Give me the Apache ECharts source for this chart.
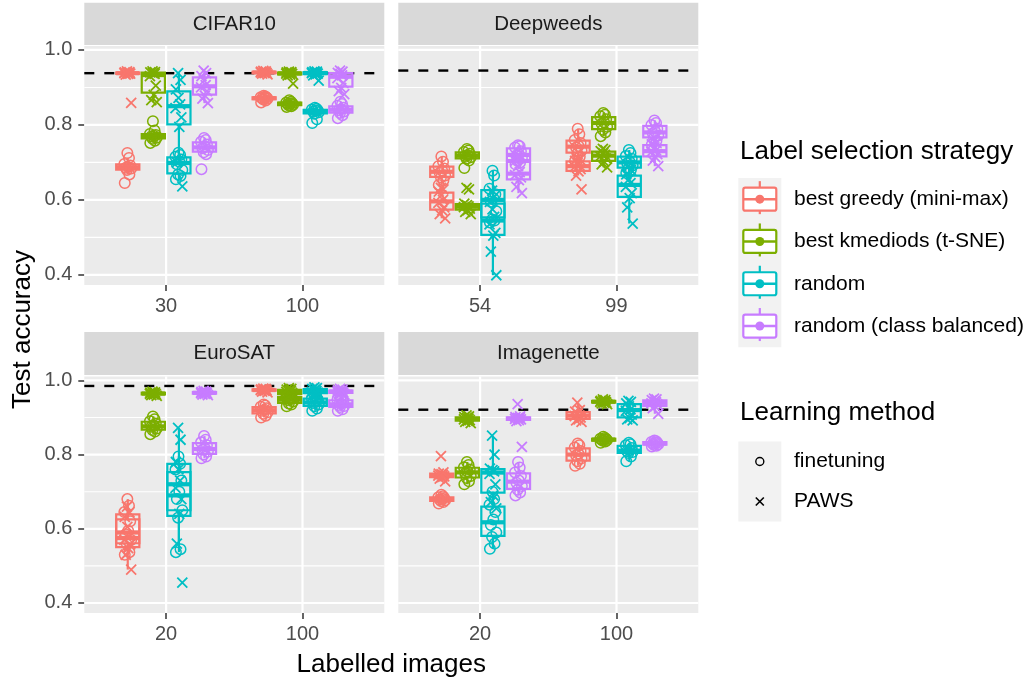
<!DOCTYPE html>
<html><head><meta charset="utf-8">
<script src="https://cdn.jsdelivr.net/npm/echarts@6/dist/echarts.min.js"></script>
<style>html,body{margin:0;padding:0;background:#fff}#c{width:1029px;height:681px}</style>
</head><body><div id="c"></div>
<script>
// ---------------- data ----------------
const STRATEGIES = ['best greedy (mini-max)', 'best kmediods (t-SNE)', 'random', 'random (class balanced)'];
const METHODS = ['finetuning', 'PAWS'];
const DATASETS = ['CIFAR10', 'Deepweeds', 'EuroSAT', 'Imagenette'];
const CIFAR10_X = ['30', '100'];
const DEEPWEEDS_X = ['54', '99'];
const EUROSAT_X = ['20', '100'];
const IMAGENETTE_X = ['20', '100'];
const REFERENCE_ACC = [0.938, 0.945, 0.985, 0.921];
const Y_TICKS = [0.4, 0.6, 0.8, 1.0];
const Y_MINOR = [0.5, 0.7, 0.9];

// each array: [best greedy, best kmediods, random, random (class balanced)]
const CIFAR10_30_FT = [
  [0.645, 0.668, 0.680, 0.684, 0.686, 0.688, 0.692, 0.696, 0.712, 0.725],
  [0.752, 0.758, 0.763, 0.766, 0.769, 0.771, 0.773, 0.776, 0.785, 0.810],
  [0.655, 0.664, 0.668, 0.680, 0.695, 0.702, 0.708, 0.715, 0.720, 0.726],
  [0.682, 0.722, 0.727, 0.733, 0.738, 0.742, 0.748, 0.755, 0.760, 0.765]];
const CIFAR10_30_PAWS = [
  [0.859, 0.934, 0.936, 0.937, 0.938, 0.938, 0.939, 0.940, 0.941, 0.943],
  [0.861, 0.866, 0.880, 0.905, 0.930, 0.936, 0.938, 0.940, 0.941, 0.943],
  [0.636, 0.700, 0.795, 0.820, 0.845, 0.855, 0.872, 0.895, 0.920, 0.938],
  [0.858, 0.870, 0.878, 0.890, 0.900, 0.906, 0.918, 0.930, 0.938, 0.945]];
const CIFAR10_100_FT = [
  [0.860, 0.865, 0.868, 0.870, 0.871, 0.872, 0.873, 0.874, 0.876, 0.878],
  [0.848, 0.850, 0.852, 0.854, 0.856, 0.857, 0.858, 0.860, 0.862, 0.866],
  [0.805, 0.815, 0.830, 0.834, 0.836, 0.838, 0.839, 0.841, 0.843, 0.846],
  [0.818, 0.826, 0.832, 0.836, 0.839, 0.842, 0.846, 0.851, 0.856, 0.862]];
const CIFAR10_100_PAWS = [
  [0.935, 0.937, 0.938, 0.939, 0.940, 0.940, 0.941, 0.942, 0.943, 0.944],
  [0.910, 0.932, 0.934, 0.936, 0.937, 0.938, 0.939, 0.940, 0.941, 0.942],
  [0.918, 0.932, 0.935, 0.937, 0.938, 0.939, 0.940, 0.941, 0.942, 0.943],
  [0.882, 0.890, 0.899, 0.912, 0.925, 0.932, 0.936, 0.939, 0.942, 0.945]];

const DEEPWEEDS_54_FT = [
  [0.640, 0.652, 0.660, 0.665, 0.672, 0.678, 0.684, 0.690, 0.702, 0.716],
  [0.685, 0.705, 0.710, 0.714, 0.717, 0.719, 0.723, 0.728, 0.732, 0.736],
  [0.540, 0.545, 0.548, 0.570, 0.595, 0.605, 0.615, 0.630, 0.665, 0.678],
  [0.695, 0.700, 0.704, 0.712, 0.718, 0.722, 0.730, 0.740, 0.743, 0.746]];
const DEEPWEEDS_54_PAWS = [
  [0.551, 0.562, 0.572, 0.580, 0.592, 0.600, 0.612, 0.622, 0.628, 0.632],
  [0.562, 0.568, 0.573, 0.577, 0.581, 0.583, 0.586, 0.590, 0.628, 0.632],
  [0.399, 0.462, 0.505, 0.512, 0.535, 0.555, 0.575, 0.595, 0.610, 0.625],
  [0.618, 0.635, 0.653, 0.660, 0.666, 0.674, 0.690, 0.705, 0.712, 0.718]];
const DEEPWEEDS_99_FT = [
  [0.705, 0.715, 0.724, 0.732, 0.740, 0.744, 0.752, 0.760, 0.775, 0.790],
  [0.770, 0.780, 0.787, 0.795, 0.803, 0.807, 0.815, 0.823, 0.827, 0.832],
  [0.672, 0.680, 0.684, 0.692, 0.698, 0.702, 0.710, 0.717, 0.725, 0.733],
  [0.748, 0.758, 0.765, 0.772, 0.778, 0.782, 0.790, 0.800, 0.805, 0.812]];
const DEEPWEEDS_99_PAWS = [
  [0.628, 0.665, 0.676, 0.682, 0.688, 0.692, 0.698, 0.704, 0.708, 0.712],
  [0.687, 0.695, 0.702, 0.710, 0.716, 0.720, 0.725, 0.730, 0.733, 0.736],
  [0.537, 0.580, 0.605, 0.618, 0.635, 0.645, 0.655, 0.668, 0.680, 0.690],
  [0.690, 0.705, 0.714, 0.722, 0.728, 0.732, 0.740, 0.748, 0.752, 0.756]];

const EUROSAT_20_FT = [
  [0.530, 0.537, 0.558, 0.570, 0.585, 0.595, 0.620, 0.645, 0.662, 0.680],
  [0.855, 0.862, 0.866, 0.870, 0.875, 0.877, 0.884, 0.890, 0.895, 0.903],
  [0.537, 0.545, 0.630, 0.650, 0.680, 0.700, 0.730, 0.760, 0.775, 0.795],
  [0.790, 0.795, 0.800, 0.808, 0.813, 0.817, 0.825, 0.833, 0.840, 0.850]];
const EUROSAT_20_PAWS = [
  [0.490, 0.530, 0.548, 0.558, 0.570, 0.580, 0.605, 0.632, 0.645, 0.660],
  [0.958, 0.960, 0.962, 0.963, 0.964, 0.965, 0.966, 0.967, 0.968, 0.970],
  [0.455, 0.560, 0.640, 0.680, 0.710, 0.730, 0.760, 0.780, 0.840, 0.872],
  [0.960, 0.962, 0.964, 0.965, 0.966, 0.967, 0.968, 0.969, 0.970, 0.972]];
const EUROSAT_100_FT = [
  [0.900, 0.905, 0.910, 0.914, 0.918, 0.921, 0.925, 0.929, 0.932, 0.935],
  [0.930, 0.935, 0.938, 0.943, 0.947, 0.949, 0.952, 0.956, 0.959, 0.962],
  [0.918, 0.924, 0.930, 0.935, 0.939, 0.942, 0.947, 0.952, 0.955, 0.958],
  [0.918, 0.922, 0.928, 0.931, 0.934, 0.937, 0.942, 0.948, 0.951, 0.954]];
const EUROSAT_100_PAWS = [
  [0.968, 0.970, 0.972, 0.973, 0.974, 0.974, 0.975, 0.976, 0.977, 0.978],
  [0.955, 0.958, 0.962, 0.966, 0.969, 0.971, 0.973, 0.975, 0.977, 0.979],
  [0.958, 0.962, 0.965, 0.967, 0.969, 0.971, 0.974, 0.977, 0.979, 0.981],
  [0.962, 0.964, 0.966, 0.968, 0.969, 0.971, 0.972, 0.973, 0.975, 0.977]];

const IMAGENETTE_20_FT = [
  [0.668, 0.672, 0.675, 0.677, 0.679, 0.681, 0.683, 0.685, 0.688, 0.692],
  [0.720, 0.728, 0.737, 0.742, 0.750, 0.754, 0.760, 0.766, 0.772, 0.780],
  [0.546, 0.560, 0.578, 0.590, 0.610, 0.625, 0.645, 0.665, 0.680, 0.700],
  [0.690, 0.698, 0.705, 0.715, 0.724, 0.730, 0.742, 0.752, 0.765, 0.780]];
const IMAGENETTE_20_PAWS = [
  [0.728, 0.735, 0.739, 0.741, 0.743, 0.745, 0.747, 0.749, 0.752, 0.796],
  [0.885, 0.888, 0.891, 0.893, 0.895, 0.897, 0.899, 0.901, 0.903, 0.906],
  [0.655, 0.672, 0.690, 0.720, 0.748, 0.755, 0.758, 0.762, 0.800, 0.851],
  [0.821, 0.890, 0.893, 0.895, 0.896, 0.898, 0.899, 0.901, 0.903, 0.936]];
const IMAGENETTE_100_FT = [
  [0.770, 0.775, 0.782, 0.790, 0.798, 0.802, 0.810, 0.819, 0.825, 0.830],
  [0.832, 0.835, 0.837, 0.839, 0.840, 0.841, 0.842, 0.843, 0.845, 0.848],
  [0.782, 0.795, 0.804, 0.807, 0.809, 0.812, 0.818, 0.825, 0.828, 0.832],
  [0.822, 0.824, 0.826, 0.828, 0.829, 0.831, 0.832, 0.834, 0.836, 0.838]];
const IMAGENETTE_100_PAWS = [
  [0.888, 0.892, 0.895, 0.900, 0.904, 0.906, 0.910, 0.916, 0.920, 0.940],
  [0.936, 0.938, 0.940, 0.941, 0.942, 0.943, 0.944, 0.945, 0.947, 0.949],
  [0.892, 0.895, 0.898, 0.908, 0.918, 0.922, 0.930, 0.938, 0.942, 0.945],
  [0.910, 0.925, 0.930, 0.935, 0.938, 0.941, 0.943, 0.947, 0.949, 0.951]];

// ---------------- style ----------------
const COLORS = ['#F8766D', '#7CAE00', '#00BFC4', '#C77CFF'];
const DODGE = [-0.28125, -0.09375, 0.09375, 0.28125];
const JITTER = [-0.022, 0.012, -0.006, 0.025, -0.015, 0.003, 0.018, -0.025, 0.009, -0.003];
const BOX_HALF = 0.085;
const FONT = '"Liberation Sans", Arial, Helvetica, sans-serif';
const X_CATS = [CIFAR10_X, DEEPWEEDS_X, EUROSAT_X, IMAGENETTE_X];
const PANEL_DATA = [
  [[CIFAR10_30_FT, CIFAR10_30_PAWS], [CIFAR10_100_FT, CIFAR10_100_PAWS]],
  [[DEEPWEEDS_54_FT, DEEPWEEDS_54_PAWS], [DEEPWEEDS_99_FT, DEEPWEEDS_99_PAWS]],
  [[EUROSAT_20_FT, EUROSAT_20_PAWS], [EUROSAT_100_FT, EUROSAT_100_PAWS]],
  [[IMAGENETTE_20_FT, IMAGENETTE_20_PAWS], [IMAGENETTE_100_FT, IMAGENETTE_100_PAWS]]];
const GRIDS = [
  {left: 84.3, top: 46, width: 300, height: 239},
  {left: 398.3, top: 46, width: 300, height: 239},
  {left: 84.3, top: 376.5, width: 300, height: 236.5},
  {left: 398.3, top: 376.5, width: 300, height: 236.5}];
const Y_MIN = 0.373, Y_MAX = 1.0105;

function quantile(sorted, p) {
  const h = (sorted.length - 1) * p, lo = Math.floor(h), hi = Math.ceil(h);
  return sorted[lo] + (h - lo) * (sorted[hi] - sorted[lo]);
}
function boxStats(vals) {
  const s = vals.slice().sort((a, b) => a - b);
  const q1 = quantile(s, 0.25), md = quantile(s, 0.5), q3 = quantile(s, 0.75);
  const iqr = q3 - q1;
  const inside = s.filter(v => v >= q1 - 1.5 * iqr && v <= q3 + 1.5 * iqr);
  return [inside[0], q1, md, q3, inside[inside.length - 1]];
}

const series = [];
for (let g = 0; g < 4; g++) {
  const gl = [];
  Y_TICKS.forEach(v => gl.push([0, v, 1]));
  Y_MINOR.forEach(v => gl.push([0, v, 0]));
  [1, 2].forEach(v => gl.push([1, v, 1]));
  series.push({
    type: 'custom', xAxisIndex: g, yAxisIndex: g, z: 1, silent: true, data: gl,
    renderItem: (params, api) => {
      const cs = params.coordSys;
      const kind = api.value(0), v = api.value(1), major = api.value(2);
      if (kind === 0) {
        const y = api.coord([1, v])[1];
        return {type: 'line', shape: {x1: cs.x, y1: y, x2: cs.x + cs.width, y2: y},
          style: {stroke: '#FFFFFF', lineWidth: major ? 2.2 : 1.1}};
      }
      const x = api.coord([v, 0.7])[0];
      return {type: 'line', shape: {x1: x, y1: cs.y, x2: x, y2: cs.y + cs.height},
        style: {stroke: '#FFFFFF', lineWidth: 2.2}};
    }
  });
  series.push({
    type: 'custom', xAxisIndex: g, yAxisIndex: g, z: 2, silent: true, data: [[1, REFERENCE_ACC[g]]],
    renderItem: (params, api) => {
      const cs = params.coordSys;
      const y = api.coord([1, api.value(1)])[1];
      return {type: 'line', shape: {x1: cs.x, y1: y, x2: cs.x + cs.width, y2: y},
        style: {stroke: '#000', lineWidth: 2.4, lineDash: [10, 10]}};
    }
  });
  for (let s = 0; s < 4; s++) {
    const col = COLORS[s];
    const data = [];
    for (let c = 0; c < 2; c++) for (let m = 0; m < 2; m++) {
      data.push([c + 1 + DODGE[s]].concat(boxStats(PANEL_DATA[g][c][m][s])));
    }
    series.push({
      type: 'custom', name: STRATEGIES[s], xAxisIndex: g, yAxisIndex: g, z: 3, silent: true,
      encode: {x: 0, y: [1, 2, 3, 4, 5]}, data: data,
      renderItem: (params, api) => {
        const x = api.value(0);
        const lo = api.value(1), q1 = api.value(2), md = api.value(3), q3 = api.value(4), hi = api.value(5);
        const tl = api.coord([x - BOX_HALF, q3]), br = api.coord([x + BOX_HALF, q1]);
        const ml = api.coord([x - BOX_HALF, md]), mr = api.coord([x + BOX_HALF, md]);
        const pHi = api.coord([x, hi]), pQ3 = api.coord([x, q3]), pQ1 = api.coord([x, q1]), pLo = api.coord([x, lo]);
        const st = {stroke: col, lineWidth: 2.2, fill: 'none'};
        return {type: 'group', children: [
          {type: 'line', shape: {x1: pHi[0], y1: pHi[1], x2: pQ3[0], y2: pQ3[1]}, style: st},
          {type: 'line', shape: {x1: pQ1[0], y1: pQ1[1], x2: pLo[0], y2: pLo[1]}, style: st},
          {type: 'rect', shape: {x: tl[0], y: tl[1], width: br[0] - tl[0], height: br[1] - tl[1]}, style: st},
          {type: 'line', shape: {x1: ml[0], y1: ml[1], x2: mr[0], y2: mr[1]}, style: {stroke: col, lineWidth: 4.2}}
        ]};
      }
    });
  }
  for (let s = 0; s < 4; s++) for (let m = 0; m < 2; m++) {
    const pts = [];
    for (let c = 0; c < 2; c++) {
      PANEL_DATA[g][c][m][s].forEach((v, i) => pts.push([c + 1 + DODGE[s] + JITTER[(i + 3 * m) % JITTER.length], v]));
    }
    series.push({
      type: 'scatter', name: STRATEGIES[s] + ' / ' + METHODS[m], xAxisIndex: g, yAxisIndex: g, z: 4, silent: true,
      data: pts,
      symbol: m === 0 ? 'circle' : 'path://M0,0L10,10M10,0L0,10',
      symbolSize: m === 0 ? 10.5 : 10,
      itemStyle: {color: 'rgba(0,0,0,0)', borderColor: COLORS[s], borderWidth: m === 0 ? 1.5 : 1.8, opacity: 1}
    });
  }
}

const grid = GRIDS.map(r => Object.assign({show: true, backgroundColor: '#EBEBEB', borderWidth: 0, containLabel: false, outerBoundsMode: 'none'}, r));
const xAxis = GRIDS.map((r, g) => ({
  type: 'value', gridIndex: g, min: 0.4, max: 2.6,
  axisLine: {show: false}, splitLine: {show: false}, minorSplitLine: {show: false},
  axisTick: {show: true, customValues: [1, 2], length: 6, lineStyle: {color: '#333333', width: 1.5}},
  axisLabel: {show: true, customValues: [1, 2], formatter: v => X_CATS[g][Math.round(v) - 1],
    color: '#4D4D4D', fontSize: 20, fontFamily: FONT, margin: 11}
}));
const yAxis = GRIDS.map((r, g) => ({
  type: 'value', gridIndex: g, min: Y_MIN, max: Y_MAX,
  axisLine: {show: false}, splitLine: {show: false},
  axisTick: {show: g % 2 === 0, customValues: Y_TICKS, length: 6, lineStyle: {color: '#333333', width: 1.5}},
  axisLabel: {show: g % 2 === 0, customValues: Y_TICKS, formatter: v => v.toFixed(1),
    color: '#4D4D4D', fontSize: 20, fontFamily: FONT, margin: 12}
}));

const graphic = [];
GRIDS.forEach((r, g) => {
  const top = g < 2 ? 2.7 : 332;
  const bot = g < 2 ? 45 : 375;
  graphic.push({type: 'rect', silent: true, shape: {x: r.left, y: top, width: r.width, height: bot - top}, style: {fill: '#D9D9D9'}});
  graphic.push({type: 'text', silent: true, x: r.left + r.width / 2, y: (top + bot) / 2,
    style: {text: DATASETS[g], fill: '#1A1A1A', font: '20.5px ' + FONT, textAlign: 'center', textVerticalAlign: 'middle'}});
});
graphic.push({type: 'text', silent: true, x: 391.3, y: 665,
  style: {text: 'Labelled images', fill: '#000', font: '26px ' + FONT, textAlign: 'center', textVerticalAlign: 'middle'}});
graphic.push({type: 'text', silent: true, x: 23, y: 329.5, rotation: Math.PI / 2,
  style: {text: 'Test accuracy', fill: '#000', font: '26px ' + FONT, textAlign: 'center', textVerticalAlign: 'middle'}});
graphic.push({type: 'text', silent: true, x: 740, y: 152,
  style: {text: 'Label selection strategy', fill: '#000', font: '26px ' + FONT, textAlign: 'left', textVerticalAlign: 'middle'}});
const K1_TOP = 178, K_STEP = 42.3, KX = 738.3, KW = 43;
graphic.push({type: 'rect', silent: true, shape: {x: KX, y: K1_TOP, width: KW, height: K_STEP * 4}, style: {fill: '#F2F2F2'}});
STRATEGIES.forEach((name, s) => {
  const cy = K1_TOP + K_STEP * (s + 0.5), cx = KX + KW / 2, col = COLORS[s];
  graphic.push({type: 'line', silent: true, shape: {x1: cx, y1: cy - 18, x2: cx, y2: cy + 15}, style: {stroke: col, lineWidth: 2.2}});
  graphic.push({type: 'rect', silent: true, shape: {x: cx - 16.5, y: cy - 11.5, width: 33, height: 23, r: 2}, style: {fill: '#FFFFFF', stroke: col, lineWidth: 2.2}});
  graphic.push({type: 'line', silent: true, shape: {x1: cx - 16.5, y1: cy, x2: cx + 16.5, y2: cy}, style: {stroke: col, lineWidth: 2.5}});
  graphic.push({type: 'circle', silent: true, shape: {cx: cx, cy: cy, r: 4.5}, style: {fill: col}});
  graphic.push({type: 'text', silent: true, x: 794, y: cy,
    style: {text: name, fill: '#000', font: '21px ' + FONT, textAlign: 'left', textVerticalAlign: 'middle'}});
});
graphic.push({type: 'text', silent: true, x: 740, y: 413,
  style: {text: 'Learning method', fill: '#000', font: '26px ' + FONT, textAlign: 'left', textVerticalAlign: 'middle'}});
const K2_TOP = 441.5, K2_STEP = 40;
graphic.push({type: 'rect', silent: true, shape: {x: KX, y: K2_TOP, width: KW, height: K2_STEP * 2}, style: {fill: '#F2F2F2'}});
METHODS.forEach((name, m) => {
  const cy = K2_TOP + K2_STEP * (m + 0.5), cx = KX + KW / 2;
  if (m === 0) {
    graphic.push({type: 'circle', silent: true, shape: {cx: cx, cy: cy, r: 4}, style: {fill: 'none', stroke: '#000', lineWidth: 1.4}});
  } else {
    graphic.push({type: 'line', silent: true, shape: {x1: cx - 4, y1: cy - 4, x2: cx + 4, y2: cy + 4}, style: {stroke: '#000', lineWidth: 1.6}});
    graphic.push({type: 'line', silent: true, shape: {x1: cx + 4, y1: cy - 4, x2: cx - 4, y2: cy + 4}, style: {stroke: '#000', lineWidth: 1.6}});
  }
  graphic.push({type: 'text', silent: true, x: 794, y: cy,
    style: {text: name, fill: '#000', font: '21px ' + FONT, textAlign: 'left', textVerticalAlign: 'middle'}});
});

const chart = echarts.init(document.getElementById('c'), null, {renderer: 'canvas'});
chart.setOption({
  animation: false,
  backgroundColor: '#FFFFFF',
  textStyle: {fontFamily: FONT},
  grid: grid, xAxis: xAxis, yAxis: yAxis, series: series, graphic: graphic
});
</script></body></html>
